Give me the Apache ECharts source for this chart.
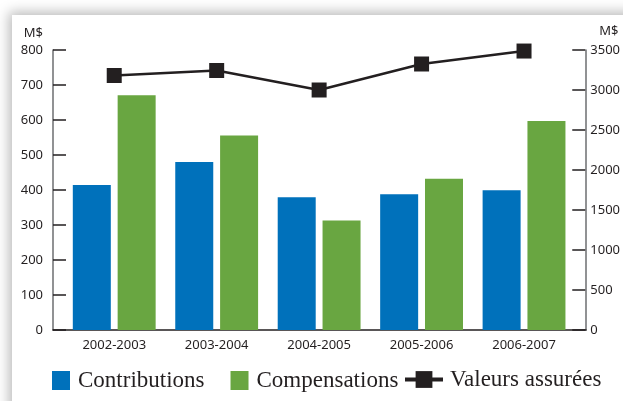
<!DOCTYPE html>
<html>
<head>
<meta charset="utf-8">
<script src="https://cdn.jsdelivr.net/npm/echarts@6/dist/echarts.min.js"></script>
<style>
  html, body { margin: 0; padding: 0; width: 623px; height: 401px; overflow: hidden; background: #ffffff; }
  #panel { position: absolute; left: 12px; top: 15px; width: 700px; height: 500px; background: #ffffff;
           box-shadow: -3px -3px 12px rgba(0,0,0,0.28); }
  #chart { position: absolute; left: 0; top: 0; width: 623px; height: 401px; }
</style>
</head>
<body>
<div id="panel"></div>
<div id="chart"></div>
<script>
// Fiscal years
const categories = ['2002-2003', '2003-2004', '2004-2005', '2005-2006', '2006-2007'];
// Amounts in M$ (left axis)
const contributions = [414, 480, 379, 388, 399];
const compensations = [671, 556, 313, 432, 597];
// Insured values in M$ (right axis)
const valeursAssurees = [3181, 3244, 3000, 3325, 3487];

const ink = '#231f20';
const axisGrey = '#6d6e71';
const sans = 'Noto Sans';
const serif = 'Liberation Serif';

const chart = echarts.init(document.getElementById('chart'), null, { renderer: 'canvas' });

chart.setOption({
  animation: false,
  backgroundColor: 'transparent',
  grid: [
    { left: 63, right: 47, top: 50, bottom: 71 },
    // wider grid only used to draw the full-length baseline
    { left: 53, right: 37, top: 50, bottom: 71 }
  ],
  xAxis: [
    {
      type: 'category', gridIndex: 0, data: categories,
      axisLine: { show: false }, axisTick: { show: false },
      axisLabel: { color: ink, fontFamily: sans, fontSize: 13, margin: 9 }
    },
    {
      type: 'category', gridIndex: 1, data: categories,
      axisLine: { show: true, lineStyle: { color: ink, width: 1.5 } },
      axisTick: { show: false }, axisLabel: { show: false }
    }
  ],
  yAxis: [
    {
      type: 'value', gridIndex: 0, min: 0, max: 800, interval: 100, offset: 10,
      name: 'M$', nameLocation: 'end', nameGap: 10,
      nameTextStyle: { color: ink, fontFamily: sans, fontSize: 13, align: 'right', padding: [0, 10, 0, 0] },
      axisLine: { show: true, lineStyle: { color: axisGrey, width: 1.5 } },
      axisTick: { show: true, inside: true, length: 13, lineStyle: { color: ink, width: 1.5 } },
      axisLabel: { color: ink, fontFamily: sans, fontSize: 13, margin: 10 },
      splitLine: { show: false }
    },
    {
      type: 'value', gridIndex: 0, position: 'right', min: 0, max: 3500, interval: 500, offset: 10,
      name: 'M$', nameLocation: 'end', nameGap: 12,
      nameTextStyle: { color: ink, fontFamily: sans, fontSize: 13, align: 'left', padding: [0, 0, 0, 14] },
      axisLine: { show: true, lineStyle: { color: axisGrey, width: 1.5 } },
      axisTick: { show: true, inside: true, length: 13, lineStyle: { color: ink, width: 1.5 } },
      axisLabel: { color: ink, fontFamily: sans, fontSize: 13, margin: 5, formatter: v => String(v) },
      splitLine: { show: false }
    },
    { type: 'value', gridIndex: 1, show: false }
  ],
  legend: [
    {
      left: 52, top: 369, padding: 0, itemWidth: 18, itemHeight: 19, itemGap: 26,
      icon: 'rect', data: ['Contributions', 'Compensations'],
      textStyle: { color: ink, fontFamily: serif, fontSize: 23, padding: [3, 0, 0, 3] }
    },
    {
      left: 403, top: 368, padding: 0, itemWidth: 38, itemHeight: 21,
      data: ['Valeurs assurées'],
      lineStyle: { width: 4 },
      textStyle: { color: ink, fontFamily: serif, fontSize: 23, padding: [4, 0, 0, 2] }
    }
  ],
  series: [
    {
      name: 'Contributions', type: 'bar', xAxisIndex: 0, yAxisIndex: 0,
      data: contributions, barWidth: 38, barGap: '18%',
      itemStyle: { color: '#0071bb' }
    },
    {
      name: 'Compensations', type: 'bar', xAxisIndex: 0, yAxisIndex: 0,
      data: compensations, barWidth: 38, barGap: '18%',
      itemStyle: { color: '#69a641' }
    },
    {
      name: 'Valeurs assurées', type: 'line', xAxisIndex: 0, yAxisIndex: 1,
      data: valeursAssurees, symbol: 'rect', symbolSize: 15, z: 5,
      lineStyle: { color: ink, width: 2.5 },
      itemStyle: { color: ink }
    }
  ]
});
</script>
</body>
</html>
